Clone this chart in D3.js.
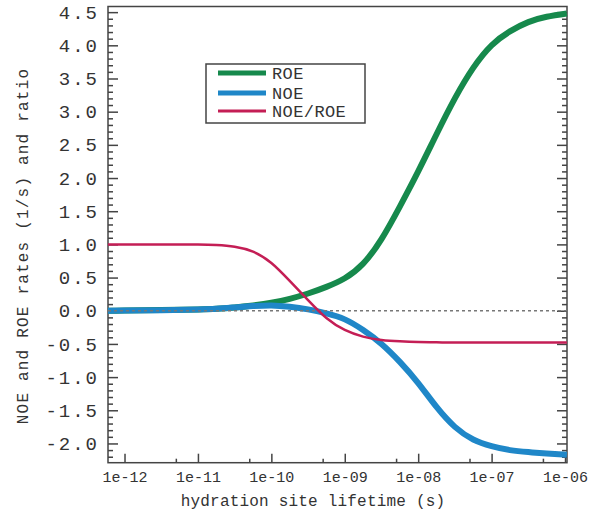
<!DOCTYPE html>
<html lang="en">
<head>
<meta charset="UTF-8">
<title>NOE and ROE rates</title>
<style>
  body { margin: 0; background: #fff; }
  .tick text { fill: #333; }
</style>
</head>
<body>
<div id="chart"></div>
<script src="https://d3js.org/d3.v7.min.js"></script>
<script>

  // data (x = log10 of the lifetime in s)
  var logLifetime = [-12.225, -12, -11.5, -11, -10.75, -10.5, -10.25, -10, -9.75, -9.5, -9.25, -9,
    -8.75, -8.5, -8.25, -8, -7.75, -7.5, -7.25, -7, -6.75, -6.5, -6.25, -5.975];
  var roe = [0.0, 0.005, 0.01, 0.02, 0.03, 0.05, 0.08, 0.12, 0.18, 0.26, 0.36, 0.49,
    0.71, 1.08, 1.57, 2.10, 2.66, 3.20, 3.66, 4.00, 4.21, 4.35, 4.43, 4.48];
  var noe = [0.0, 0.003, 0.008, 0.02, 0.03, 0.05, 0.07, 0.08, 0.06, 0.02, -0.04, -0.13,
    -0.29, -0.50, -0.77, -1.09, -1.45, -1.75, -1.94, -2.04, -2.10, -2.13, -2.15, -2.17];
  var ratio = [1.0, 1.0, 1.0, 0.998, 0.99, 0.965, 0.89, 0.72, 0.45, 0.16, -0.11, -0.29,
    -0.39, -0.44, -0.46, -0.47, -0.475, -0.48, -0.48, -0.48, -0.48, -0.48, -0.48, -0.48];

  var xTicks = [1e-12, 1e-11, 1e-10, 1e-9, 1e-8, 1e-7, 1e-6];
  var xTickLabels = ["1e-12", "1e-11", "1e-10", "1e-09", "1e-08", "1e-07", "1e-06"];
  var xMinorTicks = [5e-12, 5e-11, 5e-10, 5e-9, 5e-8, 5e-7];
  var yTicks = [-2.0, -1.5, -1.0, -0.5, 0.0, 0.5, 1.0, 1.5, 2.0, 2.5, 3.0, 3.5, 4.0, 4.5];

  var seriesNames = ["ROE", "NOE", "NOE/ROE"];
  var seriesColors = ["#16894c", "#1f87c8", "#c41e55"];
  var seriesWidths = [6, 6, 2.5];
  var seriesValues = [roe, noe, ratio];

  // dimensions and margins
  var margin = { top: 6.5, right: 32, bottom: 52.3, left: 108 },
    width = 599 - margin.left - margin.right,
    height = 515 - margin.top - margin.bottom;

  var svg = d3.select("#chart")
    .append("svg")
    .attr("width", 599)
    .attr("height", 515)
    .append("g")
    .attr("transform", "translate(" + margin.left + "," + margin.top + ")");

  var x = d3.scaleLog()
    .domain([Math.pow(10, -12.225), Math.pow(10, -5.973)])
    .range([0, width]);

  var y = d3.scaleLinear()
    .domain([-2.29, 4.585])
    .range([height, 0]);

  var yMinor = d3.range(-22, 46).map(function (i) { return i / 10; })
    .filter(function (v) { return Math.abs(v * 2 - Math.round(v * 2)) > 1e-6; });

  // frame
  svg.append("rect")
    .attr("width", width)
    .attr("height", height)
    .attr("fill", "none")
    .attr("stroke", "#444")
    .attr("stroke-width", 1.5);

  // left axis
  var left = svg.append("g")
    .call(d3.axisLeft(y).tickValues(yTicks).tickSize(-10).tickSizeOuter(0).tickPadding(9)
      .tickFormat(d3.format(".1f")));
  left.selectAll("text")
    .style("font-family", "'Liberation Mono', monospace")
    .style("font-size", "19px")
    .style("letter-spacing", "2px")
    .text(function (d) { return d3.format(".1f")(d).replace("−", "-"); });
  svg.append("g")
    .call(d3.axisLeft(y).tickValues(yMinor).tickSize(-5).tickSizeOuter(0).tickFormat(""));

  // right axis, ticks only
  svg.append("g")
    .attr("transform", "translate(" + width + ",0)")
    .call(d3.axisLeft(y).tickValues(yTicks).tickSize(10).tickSizeOuter(0).tickFormat(""));
  svg.append("g")
    .attr("transform", "translate(" + width + ",0)")
    .call(d3.axisLeft(y).tickValues(yMinor).tickSize(5).tickSizeOuter(0).tickFormat(""));

  // bottom axis
  var bottom = svg.append("g")
    .attr("transform", "translate(0," + height + ")")
    .call(d3.axisBottom(x).tickValues(xTicks).tickSize(-9).tickSizeOuter(0).tickPadding(9)
      .tickFormat(function (d, i) { return xTickLabels[i]; }));
  bottom.selectAll("text")
    .style("font-family", "'Liberation Mono', monospace")
    .style("font-size", "15px");
  svg.append("g")
    .attr("transform", "translate(0," + height + ")")
    .call(d3.axisBottom(x).tickValues(xMinorTicks).tickSize(-4).tickSizeOuter(0).tickFormat(""));

  svg.selectAll(".domain").remove();
  svg.selectAll(".tick line").attr("stroke", "#444").attr("stroke-width", 1.5);

  // axis titles
  svg.append("text")
    .attr("x", 313 - margin.left)
    .attr("y", 506 - margin.top)
    .style("text-anchor", "middle")
    .style("font-family", "'Liberation Mono', monospace")
    .style("font-size", "16px")
    .style("letter-spacing", "0.2px")
    .attr("fill", "#333")
    .text("hydration site lifetime (s)");

  svg.append("text")
    .attr("transform", "translate(" + (28 - margin.left) + "," + (246 - margin.top) + ")rotate(-90)")
    .style("text-anchor", "middle")
    .style("font-family", "'Liberation Mono', monospace")
    .style("font-size", "16px")
    .style("letter-spacing", "1.2px")
    .attr("fill", "#333")
    .text("NOE and ROE rates (1/s) and ratio");

  // curves
  var line = function (vals) {
    return d3.line()
      .x(function (d, i) { return x(Math.pow(10, logLifetime[i])); })
      .y(function (d) { return y(d); })
      .curve(d3.curveNatural)(vals);
  };

  [0, 1].forEach(function (k) {
    svg.append("path")
      .attr("d", line(seriesValues[k]))
      .attr("fill", "none")
      .attr("stroke", seriesColors[k])
      .attr("stroke-width", seriesWidths[k]);
  });

  // zero line
  svg.append("line")
    .attr("x1", 0)
    .attr("x2", width)
    .attr("y1", y(0))
    .attr("y2", y(0))
    .attr("stroke", "#777")
    .attr("stroke-width", 1.5)
    .attr("stroke-dasharray", "3,3");

  svg.append("path")
    .attr("d", line(seriesValues[2]))
    .attr("fill", "none")
    .attr("stroke", seriesColors[2])
    .attr("stroke-width", seriesWidths[2]);

  // legend
  var legend = svg.append("g")
    .attr("transform", "translate(" + (206 - margin.left) + "," + (64 - margin.top) + ")");
  legend.append("rect")
    .attr("width", 159)
    .attr("height", 59)
    .attr("fill", "#fff")
    .attr("stroke", "#444")
    .attr("stroke-width", 1.5);
  var legendY = [9, 29, 47];
  seriesNames.forEach(function (name, k) {
    legend.append("line")
      .attr("x1", 12)
      .attr("x2", 60)
      .attr("y1", legendY[k])
      .attr("y2", legendY[k])
      .attr("stroke", seriesColors[k])
      .attr("stroke-width", k < 2 ? 5 : 3);
    legend.append("text")
      .attr("x", 66)
      .attr("y", legendY[k] + 6)
      .style("font-family", "'Liberation Mono', monospace")
      .style("font-size", "17px")
      .style("letter-spacing", "0.4px")
      .attr("fill", "#333")
      .text(name);
  });

</script>
</body>
</html>
